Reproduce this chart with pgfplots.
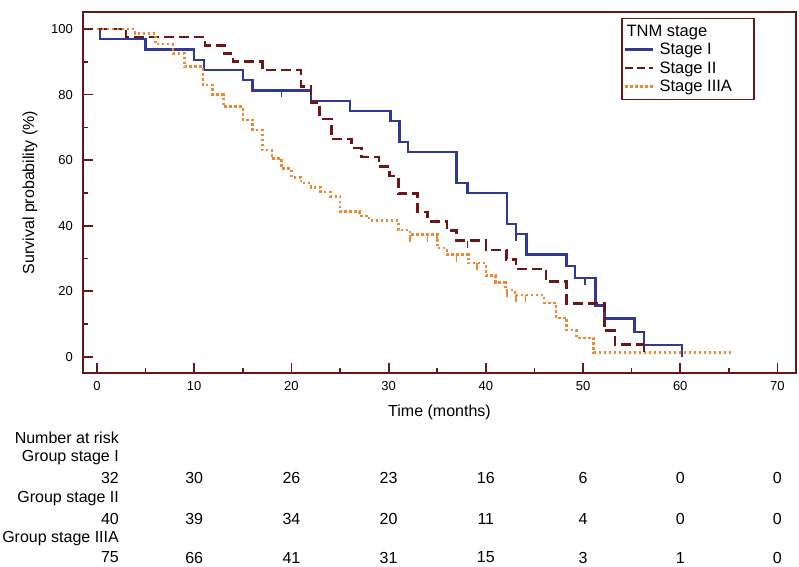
\documentclass[border=0pt]{standalone}
\usepackage{pgfplots}
\pgfplotsset{compat=1.18}
\usepackage{fontspec}
\setmainfont{Liberation Sans}
\definecolor{axred}{RGB}{105,22,22}
\definecolor{sone}{RGB}{48,58,150}
\definecolor{stwo}{RGB}{110,22,22}
\definecolor{sthree}{RGB}{240,135,50}
\pgfdeclareplotmark{cdown}{\pgfpathmoveto{\pgfpointorigin}\pgfpathlineto{\pgfpoint{0pt}{-\pgfplotmarksize}}\pgfusepathqstroke}
\begin{document}
\begin{tikzpicture}[x=1pt,y=1pt]
\useasboundingbox (0,0) rectangle (799,566);
\begin{axis}[
  at={(83pt,193pt)}, anchor=south west,
  scale only axis, width=713pt, height=361pt,
  xmin=-1.44, xmax=71.91, ymin=-4.88, ymax=105.18,
  axis line style={axred, line width=2.5pt},
  xtick={0,10,...,70}, minor xtick={5,15,...,65},
  ytick={0,20,...,100}, minor ytick={10,30,...,90},
  xtick pos=bottom, ytick pos=left, tick align=inside,
  major tick length=10pt, minor tick length=5pt,
  every tick/.style={axred, line width=1.8pt},
  every minor tick/.style={axred, line width=1.5pt},
  /pgf/number format/assume math mode=true,
  tick label style={font=\fontsize{13}{15}\selectfont},
  yticklabel style={inner sep=0pt, xshift=-10pt},
  xticklabel style={inner sep=0pt, yshift=-8pt},
  xlabel={Time (months)}, ylabel={Survival probability (\%)},
  every axis x label/.style={at={(axis description cs:0.5,-0.108)}, anchor=center, font=\fontsize{16}{19}\selectfont},
  every axis y label/.style={at={(axis description cs:-0.0743,0.5)}, rotate=90, anchor=center, font=\fontsize{16}{19}\selectfont},
  legend style={at={(axis description cs:0.755,0.983)}, anchor=north west,
    draw=axred, line width=1.2pt, font=\fontsize{16.5}{19}\selectfont,
    inner xsep=2pt, inner ysep=4pt, row sep=1.5pt, column sep=3pt, cells={anchor=west}},
  clip=false,
]
\addlegendimage{empty legend}
\addlegendentry{\hspace*{-33pt}TNM stage}
% Stage I
\addplot[const plot, color=sone, line width=2.4pt, mark=none,
  legend image code/.code={\draw[sone, line width=2.6pt] (0pt,0pt) -- (28pt,0pt);}]
  table {
t s
0 100
0.3 96.9
5 93.8
10 90.6
11 87.5
15 84.4
16 81.3
22 78.1
26 75.0
30.2 71.9
31.1 65.6
32 62.5
37 53.1
38.1 50.0
42.2 40.6
43.1 37.5
44.2 31.3
48.3 27.7
49.2 24.1
51.3 15.7
52.2 11.7
55.3 7.7
56.3 3.7
60.2 0
};
\addlegendentry{Stage I}
% Stage II
\addplot[const plot, color=stwo, line width=2.6pt, dash pattern=on 10pt off 5pt, mark=none,
  legend image code/.code={\draw[stwo, line width=2.6pt, dash pattern=on 8pt off 4pt] (0pt,0pt) -- (28pt,0pt);}]
  table {
t s
0 100
3 97.5
11.1 95
13.1 92.5
14 90
17 87.5
21 82.5
22 77.5
22.9 72.5
24.1 66.5
26.2 63.7
27.2 61
29 58
30.1 55.2
31 49.8
33 44.2
34 41.4
36 38.5
37 35.5
40 32.6
42.1 29.8
43.1 26.8
46.2 23
48.3 16.4
52.2 8
53.3 3.8
56.3 3.8
};
\addlegendentry{Stage II}
% Stage IIIA
\addplot[const plot, color=sthree, line width=2.6pt, dash pattern=on 2.5pt off 2.5pt, mark=none,
  legend image code/.code={\draw[sthree, line width=2.6pt, dash pattern=on 2.5pt off 2.5pt] (0pt,0pt) -- (28pt,0pt);}]
  table {
t s
0 100
3.9 98.7
6 95.4
7.8 92.6
9 88.5
10.9 82.9
11.9 80
13 76.3
15 72.3
16 69.2
17 63.1
18 60.5
19 57.4
20 54.8
21 53
22 51.7
23 50.3
24 49
25 44.3
27 43
28 41.7
31 38.7
32.2 37.3
35 33.2
36 31.2
38.2 28.6
40 24.8
41 22.7
42 20.4
43 18.9
46 16.5
47.2 11.9
48.3 8.2
49.3 5.8
51.1 1.4
65.3 1.4
};
\addlegendentry{Stage IIIA\hspace*{18pt}}
% censoring marks
\addplot[forget plot, only marks, mark=cdown, mark size=7pt, color=sone, line width=1.6pt]
  table {
t s
19 81.3
43.1 37.5
50.2 24.1
};
\addplot[forget plot, only marks, mark=cdown, mark size=7pt, color=stwo, line width=1.6pt]
  table {
t s
38.1 35.5
56.3 3.8
};
\addplot[forget plot, only marks, mark=cdown, mark size=7pt, color=sthree, line width=1.6pt]
  table {
t s
32.2 37.3
34 37.3
35 37.3
37 31.2
39.1 28.6
42.2 20.4
43.1 18.9
44.1 18.9
};
\end{axis}
% number at risk table
\begin{scope}[every node/.style={font=\fontsize{16}{19}\selectfont, inner sep=0pt}]
\node[anchor=east] at (119,128) {Number at risk};
\node[anchor=east] at (119,108) {Group stage I};
\node[anchor=east] at (119,88) {32};
\foreach \v [count=\i] in {30,26,23,16,6,0,0} \node at ({97+97.2*\i},88) {\v};
\node[anchor=east] at (119,67) {Group stage II};
\node[anchor=east] at (119,47) {40};
\foreach \v [count=\i] in {39,34,20,11,4,0,0} \node at ({97+97.2*\i},47) {\v};
\node[anchor=east] at (119,27) {Group stage IIIA};
\node[anchor=east] at (119,8.5) {75};
\foreach \v [count=\i] in {66,41,31,15,3,1,0} \node at ({97+97.2*\i},8.5) {\v};
\end{scope}
\end{tikzpicture}
\end{document}
